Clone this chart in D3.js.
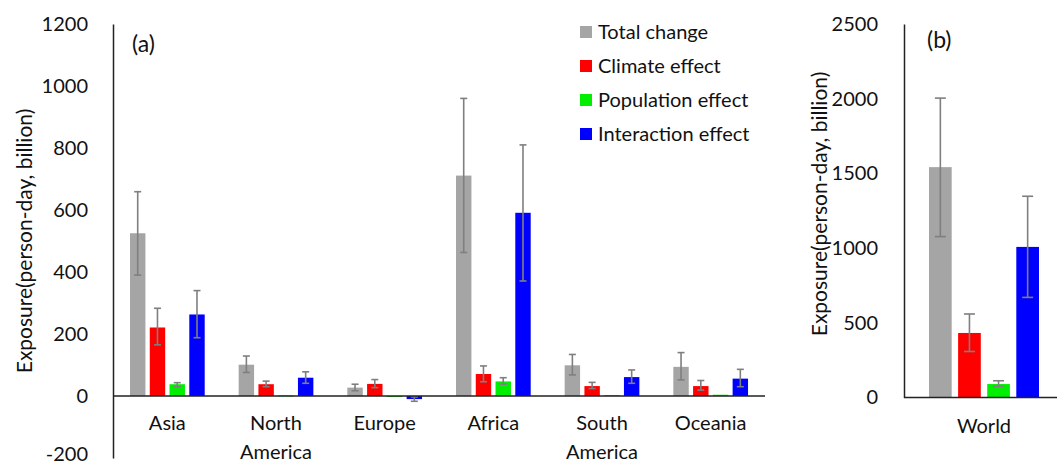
<!DOCTYPE html>
<html>
<head>
<meta charset="utf-8">
<script src="https://cdn.jsdelivr.net/npm/d3@7"></script>
<style>
  body { margin: 0; background: #fff; }
  text { font-family: Lato, "Open Sans", sans-serif; fill: #111; }
</style>
</head>
<body>
<svg id="chart" width="1057" height="464"></svg>
<script>
// data (billion person-days)
var regions = ["Asia", "North America", "Europe", "Africa", "South America", "Oceania"];
var series = ["Total change", "Climate effect", "Population effect", "Interaction effect"];
var colors = ["#a5a5a5", "#ff0000", "#00ee00", "#0000ff"];

var totalChange = [525, 101, 27, 711, 99, 94];
var climateEffect = [221, 38, 39, 71, 32, 32];
var populationEffect = [38, 2, -1, 47, 3, 4];
var interactionEffect = [263, 59, -10, 591, 61, 56];

var totalLow = [390, 76, 17, 463, 68, 52];
var totalHigh = [659, 129, 38, 960, 134, 140];
var climateLow = [165, 30, 27, 46, 24, 19];
var climateHigh = [283, 48, 53, 97, 44, 50];
var populationLow = [30, 2, -1, 38, 3, 4];
var populationHigh = [43, 2, -1, 59, 3, 4];
var interactionLow = [188, 41, -17, 371, 41, 30];
var interactionHigh = [340, 78, -3, 810, 84, 86];

var world = ["World"];
var worldValues = [1542, 432, 90, 1008];
var worldLow = [1077, 308, 74, 670];
var worldHigh = [2004, 559, 112, 1347];

var ticksA = [-200, 0, 200, 400, 600, 800, 1000, 1200];
var ticksB = [0, 500, 1000, 1500, 2000, 2500];

var svg = d3.select("#chart");
var plain = function(d){ return String(d); };

var valuesA = [totalChange, climateEffect, populationEffect, interactionEffect];
var lowA = [totalLow, climateLow, populationLow, interactionLow];
var highA = [totalHigh, climateHigh, populationHigh, interactionHigh];

// ---------- panel (a) ----------
var xA = d3.scaleBand().domain(regions).range([113, 765]);
var innerA = d3.scaleBand().domain(series).range([17, 91.7]).paddingInner(0.22);
var yA = d3.scaleLinear().domain([-200, 1200]).range([458, 24]);

var gA = svg.append("g");

gA.append("g")
  .attr("transform", "translate(113,0)")
  .call(d3.axisLeft(yA).tickValues(ticksA).tickFormat(plain).tickSize(0).tickPadding(25))
  .call(function(g){
    g.select(".domain").attr("stroke", "#222").attr("stroke-width", 1.5);
    g.selectAll("text").attr("font-size", 20).attr("font-family", "Lato").attr("fill", "#111");
    g.selectAll(".tick").filter(function(d){ return d < 0; }).select("text").attr("dy", "0.1em");
  });

var rowsA = [];
regions.forEach(function(r, i){
  series.forEach(function(s, j){
    rowsA.push({region: r, s: s, c: colors[j], v: valuesA[j][i], lo: lowA[j][i], hi: highA[j][i]});
  });
});

gA.selectAll("rect.bar")
  .data(rowsA)
  .enter().append("rect")
  .attr("class", "bar")
  .attr("x", function(d){ return xA(d.region) + innerA(d.s); })
  .attr("width", innerA.bandwidth())
  .attr("y", function(d){ return yA(Math.max(0, d.v)); })
  .attr("height", function(d){ return Math.max(1, Math.abs(yA(d.v) - yA(0))); })
  .attr("fill", function(d){ return d.c; });

function errorBars(g, rows, xpos, y, cap){
  var e = g.selectAll("g.err").data(rows).enter().append("g")
    .attr("class", "err")
    .attr("stroke", "#7f7f7f")
    .attr("stroke-width", 1.6);
  e.append("line")
    .attr("x1", xpos).attr("x2", xpos)
    .attr("y1", function(d){ return y(d.hi); })
    .attr("y2", function(d){ return y(d.lo); });
  e.append("line")
    .attr("x1", function(d){ return xpos(d) - cap; })
    .attr("x2", function(d){ return xpos(d) + cap; })
    .attr("y1", function(d){ return y(d.hi); })
    .attr("y2", function(d){ return y(d.hi); });
  e.append("line")
    .attr("x1", function(d){ return xpos(d) - cap; })
    .attr("x2", function(d){ return xpos(d) + cap; })
    .attr("y1", function(d){ return y(d.lo); })
    .attr("y2", function(d){ return y(d.lo); });
}

errorBars(gA, rowsA.filter(function(d){ return d.s != "Population effect" || d.hi - d.lo > 2; }),
  function(d){ return xA(d.region) + innerA(d.s) + innerA.bandwidth() / 2; }, yA, 3.5);

// zero line
gA.append("line")
  .attr("x1", 113).attr("x2", 765)
  .attr("y1", yA(0)).attr("y2", yA(0))
  .attr("stroke", "#222").attr("stroke-width", 1.5);

// category labels (two lines where needed)
gA.selectAll("text.cat")
  .data(regions)
  .enter().append("text")
  .attr("class", "cat")
  .attr("text-anchor", "middle")
  .attr("font-size", 20)
  .attr("x", function(d){ return xA(d) + xA.bandwidth() / 2; })
  .attr("y", 430)
  .each(function(d){
    var parts = d.split(" ");
    var t = d3.select(this);
    parts.forEach(function(p, k){
      t.append("tspan")
        .attr("x", xA(d) + xA.bandwidth() / 2)
        .attr("dy", k == 0 ? 0 : 29)
        .text(p);
    });
  });

gA.append("text")
  .attr("transform", "translate(32,241) rotate(-90)")
  .attr("text-anchor", "middle")
  .attr("font-size", 21)
  .text("Exposure(person-day, billion)");

gA.append("text")
  .attr("x", 132).attr("y", 52)
  .attr("font-family", "'Liberation Serif', serif")
  .attr("font-size", 23)
  .text("(a)");

// legend
var legend = gA.selectAll("g.leg")
  .data(series)
  .enter().append("g")
  .attr("class", "leg")
  .attr("transform", function(d, i){ return "translate(580," + (32 + i * 34) + ")"; });
legend.append("rect")
  .attr("x", 0).attr("y", -6).attr("width", 12).attr("height", 12)
  .attr("fill", function(d, i){ return colors[i]; });
legend.append("text")
  .attr("x", 18).attr("y", 7)
  .attr("font-size", 20)
  .text(function(d){ return d; });

// ---------- panel (b) ----------
var xB = d3.scaleBand().domain(world).range([904, 1064]);
var innerB = d3.scaleBand().domain(series).range([25, 135]).paddingInner(0.22);
var yB = d3.scaleLinear().domain([0, 2500]).range([397.5, 24]);

var gB = svg.append("g");

gB.append("g")
  .attr("transform", "translate(904,0)")
  .call(d3.axisLeft(yB).tickValues(ticksB).tickFormat(plain).tickSize(0).tickPadding(26))
  .call(function(g){
    g.select(".domain").attr("stroke", "#222").attr("stroke-width", 1.5);
    g.selectAll("text").attr("font-size", 20).attr("font-family", "Lato").attr("fill", "#111");
  });

var rowsB = series.map(function(s, j){
  return {region: "World", s: s, c: colors[j], v: worldValues[j], lo: worldLow[j], hi: worldHigh[j]};
});

gB.selectAll("rect.bar")
  .data(rowsB)
  .enter().append("rect")
  .attr("class", "bar")
  .attr("x", function(d){ return xB(d.region) + innerB(d.s); })
  .attr("width", innerB.bandwidth())
  .attr("y", function(d){ return yB(d.v); })
  .attr("height", function(d){ return yB(0) - yB(d.v); })
  .attr("fill", function(d){ return d.c; });

errorBars(gB, rowsB, function(d){ return xB(d.region) + innerB(d.s) + innerB.bandwidth() / 2; }, yB, 5.5);

gB.append("line")
  .attr("x1", 904).attr("x2", 1057)
  .attr("y1", yB(0)).attr("y2", yB(0))
  .attr("stroke", "#222").attr("stroke-width", 1.5);

gB.append("text")
  .attr("x", 984).attr("y", 433)
  .attr("text-anchor", "middle")
  .attr("font-size", 20)
  .text("World");

gB.append("text")
  .attr("transform", "translate(827,204) rotate(-90)")
  .attr("text-anchor", "middle")
  .attr("font-size", 21)
  .text("Exposure(person-day, billion)");

gB.append("text")
  .attr("x", 927).attr("y", 48)
  .attr("font-family", "'Liberation Serif', serif")
  .attr("font-size", 23)
  .text("(b)");
</script>
</body>
</html>
